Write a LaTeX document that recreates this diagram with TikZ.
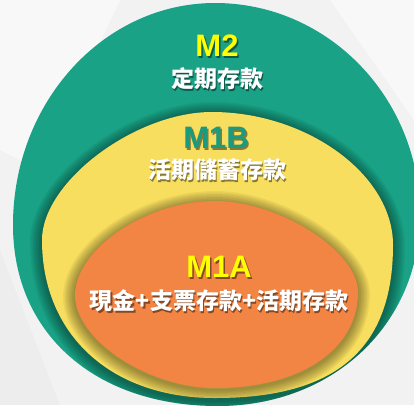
\documentclass[tikz,border=0pt]{standalone}
\usepackage{fontspec}
\setmainfont{Liberation Sans}
\newfontfamily\cjk{Noto Sans CJK TC}
\definecolor{bgc}{HTML}{F2F2F2}
\definecolor{greenc}{HTML}{19A285}
\definecolor{yellowc}{HTML}{F8DE5E}
\definecolor{orangec}{HTML}{F28444}
\definecolor{ylabel}{HTML}{FFFF00}
\definecolor{glabel}{HTML}{1A9A7E}
\tikzset{
  shadowring/.style={draw=black, draw opacity=0.05, fill=none},
  mlabel/.style={font=\fontsize{31}{31}\selectfont\bfseries, inner sep=0pt},
  clabel/.style={font=\cjk\fontsize{23}{23}\selectfont\bfseries, text=white, inner sep=0pt},
}
\newcommand{\shtext}[4]{% name, position, style, text
  \node[#3, text=black, opacity=0.45] at ([xshift=1.5pt,yshift=-1.5pt]#2) {#4};
  \node[#3] (#1) at (#2) {#4};
}
\def\greenpath{(215,3) .. controls (328.2,3) and (420,98) .. (420,215)
  .. controls (420,323.9) and (333.1,406) .. (218,406)
  .. controls (95,406) and (13,333.6) .. (13,225)
  .. controls (13,102.5) and (103.5,3) .. cycle}
\def\yellowpath{(212,112) .. controls (306,112) and (393,174) .. (393,245)
  .. controls (393,349) and (336,398) .. (215,398)
  .. controls (111.2,398) and (42,334.8) .. (42,240)
  .. controls (42,182) and (135,112) .. cycle}
\def\orangepath{(215,201) .. controls (279,201) and (358,251) .. (358,292)
  .. controls (358,349.6) and (300.8,388) .. (215,388)
  .. controls (147.8,388) and (75,339.6) .. (75,295)
  .. controls (75,250) and (145,201) .. cycle}
\begin{document}
\begin{tikzpicture}[x=1pt,y=-1pt]
\fill[bgc] (0,0) rectangle (414,405);
\useasboundingbox (0,0) rectangle (414,405);
\begin{scope}
\clip (0,0) rectangle (414,405);
% faint background facets
\fill[white, opacity=0.5] (0,0) -- (120,0) -- (40,170) -- (0,150) -- cycle;
\fill[white, opacity=0.5] (330,0) -- (414,0) -- (414,120) -- cycle;
\fill[black, opacity=0.02] (0,250) -- (60,405) -- (0,405) -- cycle;
% green
\fill[greenc] \greenpath;
% yellow with soft shadow
\begin{scope}
\clip \greenpath;
\foreach \w in {3,6,...,24} {
  \draw[shadowring, line width=\w pt, yshift=-2pt] \yellowpath;
}
\end{scope}
\fill[yellowc] \yellowpath;
% orange with soft shadow
\begin{scope}
\clip \yellowpath;
\foreach \w in {3,6,...,24} {
  \draw[shadowring, line width=\w pt, yshift=-2pt] \orangepath;
}
\end{scope}
\fill[orangec] \orangepath;
\end{scope}
\shtext{m2}{217,46}{mlabel, text=ylabel}{M2}
\shtext{m2t}{217,79}{clabel}{定期存款}
\shtext{m1b}{216,138}{mlabel, text=glabel}{M1B}
\shtext{m1bt}{217,170}{clabel}{活期儲蓄存款}
\shtext{m1a}{219,267}{mlabel, text=ylabel}{M1A}
\shtext{m1at}{219,301}{clabel}{現金+支票存款+活期存款}
\end{tikzpicture}
\end{document}
